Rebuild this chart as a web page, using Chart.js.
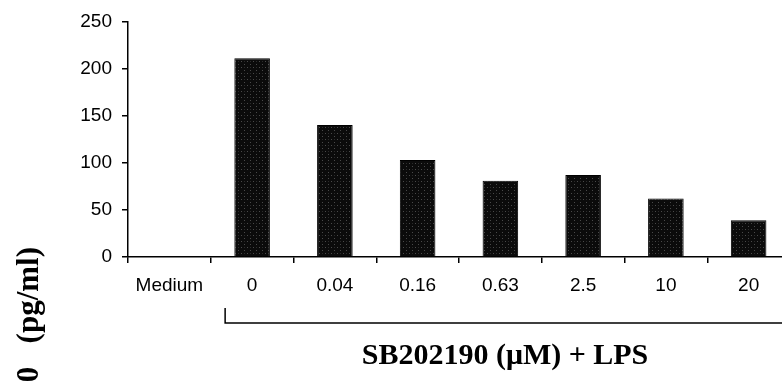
<!DOCTYPE html>
<html>
<head>
<meta charset="utf-8">
<script src="https://cdn.jsdelivr.net/npm/chart.js@4"></script>
<style>
  html, body { margin: 0; padding: 0; background: #fff; overflow: hidden; }
  #wrap { position: absolute; left: 0; top: 0; width: 800px; height: 383px; }
</style>
</head>
<body>
<div id="wrap"><canvas id="chart" width="800" height="383"></canvas></div>
<script>
// ── Data ──
const CATEGORIES = ['Medium', '0', '0.04', '0.16', '0.63', '2.5', '10', '20'];
const VALUES     = [0, 211, 140, 103, 81, 87, 62, 39];
const Y_MIN = 0, Y_MAX = 250, Y_STEP = 50;

const Y_LABEL = 'IL-10   (pg/ml)';
const X_TITLE = 'SB202190 (\u03BCM) + LPS';

// ── Style tokens ──
const C_INK   = '#000';
const F_TICK  = { family: 'Liberation Sans, Arial, sans-serif', size: 19 };
const F_TITLE = 'bold 30px "Liberation Serif", "Times New Roman", serif';

// speckled near-black fill, like the scanned bars
function barPattern() {
  const c = document.createElement('canvas');
  c.width = 6; c.height = 6;
  const g = c.getContext('2d');
  g.fillStyle = '#0b0b0b';
  g.fillRect(0, 0, 6, 6);
  g.fillStyle = '#4a4a4a';
  g.fillRect(1, 1, 1, 1);
  g.fillRect(4, 4, 1, 1);
  g.fillStyle = '#2a2a2a';
  g.fillRect(4, 1, 1, 1);
  return g.createPattern(c, 'repeat');
}

// ── Bracket, bottom title and rotated y label ──
const annotations = {
  id: 'annotations',
  afterDraw(chart) {
    const { ctx, scales: { x } } = chart;
    const bx = x.getPixelForValue(1) - 27;
    ctx.save();
    ctx.strokeStyle = C_INK;
    ctx.lineWidth = 1.5;
    ctx.beginPath();
    ctx.moveTo(bx, 308);
    ctx.lineTo(bx, 323);
    ctx.lineTo(chart.width, 323);
    ctx.stroke();

    ctx.fillStyle = C_INK;
    ctx.font = F_TITLE;
    ctx.textAlign = 'center';
    ctx.textBaseline = 'alphabetic';
    ctx.fillText(X_TITLE, 505, 364);

    ctx.translate(30, 247);
    ctx.rotate(-Math.PI / 2);
    ctx.font = 'bold 31px "Liberation Serif", "Times New Roman", serif';
    ctx.textAlign = 'right';
    ctx.textBaseline = 'middle';
    ctx.fillText(Y_LABEL, 0, 0);
    ctx.restore();
  }
};

new Chart(document.getElementById('chart'), {
  type: 'bar',
  data: {
    labels: CATEGORIES,
    datasets: [{
      data: VALUES,
      backgroundColor: barPattern(),
      borderColor: '#000',
      borderWidth: 1,
      categoryPercentage: 1,
      barPercentage: 0.43,
    }]
  },
  options: {
    responsive: false,
    animation: false,
    layout: { padding: { top: 21, right: 10, left: 0, bottom: 0 } },
    plugins: { legend: { display: false }, tooltip: { enabled: false } },
    scales: {
      x: {
        afterFit: s => { s.height = 126; },
        border: { display: true, color: C_INK, width: 1.5 },
        grid: { offset: true, drawOnChartArea: false, drawTicks: true, tickLength: 6, color: C_INK, lineWidth: 1.5 },
        ticks: { color: C_INK, font: F_TICK, padding: 11, autoSkip: false, maxRotation: 0 }
      },
      y: {
        min: Y_MIN,
        max: Y_MAX,
        afterFit: s => { s.width = 128; },
        border: { display: true, color: C_INK, width: 1.5 },
        grid: { drawOnChartArea: false, drawTicks: true, tickLength: 6, color: C_INK, lineWidth: 1.5 },
        ticks: { stepSize: Y_STEP, color: C_INK, font: F_TICK, padding: 10 }
      }
    }
  },
  plugins: [annotations]
});
</script>
</body>
</html>
